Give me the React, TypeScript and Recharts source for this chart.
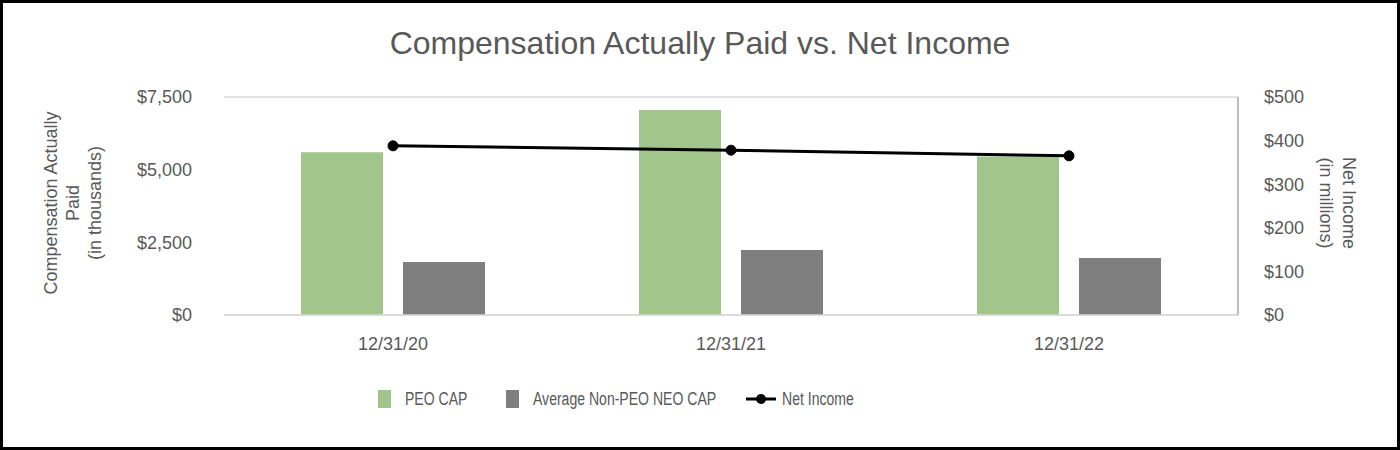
import React from 'react';
import { ComposedChart, Bar, Line, XAxis, YAxis, CartesianGrid } from 'recharts';

const years = ['12/31/20', '12/31/21', '12/31/22'];
const peoCap = [5600, 7050, 5450];
const neoCap = [1820, 2240, 1960];
const netIncome = [388, 378, 365];
const leftTicks = [0, 2500, 5000, 7500];
const rightTicks = [0, 100, 200, 300, 400, 500];

const data = years.map((y, i) => ({ year: y, peo: peoCap[i], neo: neoCap[i], ni: netIncome[i] }));

const GREEN = '#A2C58C';
const GRAY = '#7F7F7F';
const TEXT = '#595959';
const FONT = "'Liberation Sans', Arial, sans-serif";

const money = (v: number) => '$' + v.toLocaleString('en-US');

const LeftLabel = (props: any) => {
  const vb = props.viewBox || {};
  const cy = vb.y + vb.height / 2 - 3;
  const lines = ['Compensation Actually', 'Paid', '(in thousands)'];
  return (
    <g>
      {lines.map((t, i) => (
        <text key={i} x={51 + i * 22} y={cy} transform={`rotate(-90 ${51 + i * 22} ${cy})`} textAnchor="middle" dominantBaseline="central" fill={TEXT} fontSize={18} fontFamily={FONT}>
          {t}
        </text>
      ))}
    </g>
  );
};

const RightLabel = (props: any) => {
  const vb = props.viewBox || {};
  const cy = vb.y + vb.height / 2 - 3;
  const lines = ['Net Income', '(in millions)'];
  return (
    <g>
      {lines.map((t, i) => (
        <text key={i} x={1349 - i * 23} y={cy} transform={`rotate(90 ${1349 - i * 23} ${cy})`} textAnchor="middle" dominantBaseline="central" fill={TEXT} fontSize={18} fontFamily={FONT}>
          {t}
        </text>
      ))}
    </g>
  );
};

const legendText: React.CSSProperties = {
  position: 'absolute',
  top: 0,
  fontFamily: FONT,
  fontSize: 18,
  lineHeight: '18px',
  color: TEXT,
  whiteSpace: 'nowrap',
  transform: 'scaleX(0.78)',
  transformOrigin: 'left center',
};

export default function App() {
  return (
    <div style={{ position: 'absolute', left: 0, top: 0, width: 1400, height: 450, background: '#fff', overflow: 'hidden' }}>
      <div style={{ position: 'absolute', left: 0, top: 24, width: 1400, textAlign: 'center', fontFamily: FONT, fontSize: 32, lineHeight: '38px', color: TEXT }}>
        Compensation Actually Paid vs. Net Income
      </div>
      <div style={{ position: 'absolute', left: 0, top: 0 }}>
        <ComposedChart width={1400} height={450} data={data} margin={{ top: 97, right: 62, bottom: 95, left: 0 }} barGap={20}>
          <CartesianGrid vertical={false} stroke="#D9D9D9" strokeWidth={1.5} />
          <XAxis dataKey="year" height={40} tickLine={false} axisLine={{ stroke: '#D9D9D9', strokeWidth: 1.5 }} tickMargin={16} tick={{ fill: TEXT, fontSize: 18, fontFamily: FONT }} />
          <YAxis yAxisId="left" orientation="left" width={224} domain={[0, 7500]} ticks={leftTicks} tickFormatter={money} tickLine={false} axisLine={false} tickMargin={26} tick={{ fill: TEXT, fontSize: 18, fontFamily: FONT }} label={{ content: LeftLabel }} />
          <YAxis yAxisId="right" orientation="right" width={100} domain={[0, 500]} ticks={rightTicks} tickFormatter={money} tickLine={false} axisLine={{ stroke: '#A6A6A6', strokeWidth: 1.5 }} tickMargin={20} tick={{ fill: TEXT, fontSize: 18, fontFamily: FONT }} label={{ content: RightLabel }} />
          <Bar yAxisId="left" dataKey="peo" fill={GREEN} barSize={82} isAnimationActive={false} />
          <Bar yAxisId="left" dataKey="neo" fill={GRAY} barSize={82} isAnimationActive={false} />
          <Line yAxisId="right" type="linear" dataKey="ni" stroke="#000" strokeWidth={3} dot={{ r: 5, fill: '#000', stroke: '#000', strokeWidth: 1 }} isAnimationActive={false} />
        </ComposedChart>
      </div>
      <div style={{ position: 'absolute', left: 0, top: 390, width: 1400, height: 18 }}>
        <div style={{ position: 'absolute', left: 378, top: 0, width: 13, height: 18, background: GREEN }} />
        <div style={{ ...legendText, left: 405 }}>PEO CAP</div>
        <div style={{ position: 'absolute', left: 506, top: 0, width: 13, height: 18, background: GRAY }} />
        <div style={{ ...legendText, left: 533 }}>Average Non-PEO NEO CAP</div>
        <svg width={30} height={18} style={{ position: 'absolute', left: 746, top: 0 }}>
          <line x1={0} y1={9} x2={30} y2={9} stroke="#000" strokeWidth={3} />
          <circle cx={15} cy={9} r={5} fill="#000" />
        </svg>
        <div style={{ ...legendText, left: 782 }}>Net Income</div>
      </div>
      <div style={{ position: 'absolute', left: 0, top: 0, width: 1400, height: 450, boxSizing: 'border-box', border: '3px solid #000', pointerEvents: 'none' }} />
    </div>
  );
}
